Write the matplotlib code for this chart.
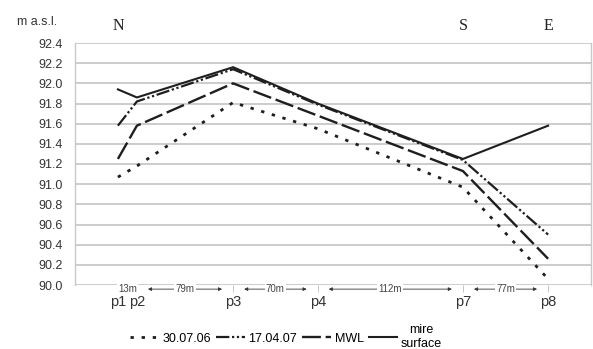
import matplotlib.pyplot as plt
import matplotlib.transforms as mtransforms

# station positions along the transect (m)
stations = ['p1', 'p2', 'p3', 'p4', 'p7', 'p8']
station_x = [0, 15.5, 94, 163, 281.5, 351]

# water levels / surface, m a.s.l.
level_300706 = [91.07, 91.18, 91.81, 91.55, 90.97, 90.06]
level_170407 = [91.58, 91.82, 92.14, 91.79, 91.24, 90.50]
level_mwl = [91.25, 91.58, 92.00, 91.68, 91.13, 90.26]
mire_surface = [91.94, 91.86, 92.16, 91.80, 91.25, 91.58]

# distances between stations
dist_labels = ['13m', '79m', '70m', '112m', '77m']

plt.rcParams['font.family'] = ['Liberation Sans', 'DejaVu Sans']

fig = plt.figure(figsize=(5.93, 3.49), dpi=100)
ax = fig.add_axes([75 / 593, 1 - 285 / 349, 516 / 593, 242 / 349])

ink = '#1e1e1e'
ax.plot(station_x, level_300706, color=ink, lw=2.0, linestyle=(0, (1.2, 2.8)),
        label='30.07.06')
ax.plot(station_x, level_170407, color=ink, lw=1.6,
        linestyle=(0, (6, 1.2, 1, 1.2, 1, 1.2)), label='17.04.07')
ax.plot(station_x, level_mwl, color=ink, lw=1.7, linestyle=(0, (8, 2)), label='MWL')
ax.plot(station_x, mire_surface, color=ink, lw=1.5, label='mire\nsurface')

ax.set_xlim(-35, 386)
ax.set_ylim(90.0, 92.4)
ax.set_yticks([90.0 + 0.2 * i for i in range(13)])
ax.yaxis.set_major_formatter(plt.FormatStrFormatter('%.1f'))
ax.grid(axis='y', color='#c8c8c8', lw=1.3)
ax.set_axisbelow(True)
ax.tick_params(axis='y', length=0, pad=9, labelsize=9, labelcolor='#333333')

ax.set_xticks(station_x)
ax.set_xticklabels(stations)
ax.tick_params(axis='x', length=5, width=0.6, color='#bbbbbb', pad=2,
               labelsize=10.5, labelcolor='#333333')

for side in ['top', 'bottom']:
    ax.spines[side].set_visible(False)
for side in ['left', 'right']:
    ax.spines[side].set_color('#c8c8c8')
    ax.spines[side].set_linewidth(1.0)

# distance arrows under the axis
trans = mtransforms.blended_transform_factory(ax.transData, ax.transAxes)
arrow_y = -0.017
gap = 9
for i, lab in enumerate(dist_labels):
    x0, x1 = station_x[i], station_x[i + 1]
    mid = (x0 + x1) / 2
    if i > 0:
        ax.annotate('', xy=(x1 - gap, arrow_y), xytext=(x0 + gap, arrow_y),
                    xycoords=trans, textcoords=trans,
                    arrowprops=dict(arrowstyle='<|-|>', lw=0.6, color='#333333',
                                    mutation_scale=5, shrinkA=0, shrinkB=0),
                    annotation_clip=False)
    ax.text(mid, arrow_y, lab, transform=trans, ha='center', va='center',
            fontsize=7, color='#444444', clip_on=False,
            bbox=dict(facecolor='white', edgecolor='none', pad=1.0))

# compass letters and unit
for letter, xpos in [('N', 118), ('S', 463), ('E', 548)]:
    fig.text(xpos / 593, 1 - 26 / 349, letter, ha='center', va='center',
             fontsize=11.5, family='Liberation Serif', color='#222222')
fig.text(17 / 593, 1 - 22 / 349, 'm a.s.l.', ha='left', va='center',
         fontsize=9, color='#333333')

leg = fig.legend(loc='center', bbox_to_anchor=(286 / 593, 1 - 337 / 349), ncol=4,
                 frameon=False, fontsize=9, handlelength=2.3, handletextpad=0.3,
                 columnspacing=0.4, borderaxespad=0, borderpad=0)
leg.get_texts()[3].set_multialignment('center')

fig.savefig('out.png', dpi=100)
